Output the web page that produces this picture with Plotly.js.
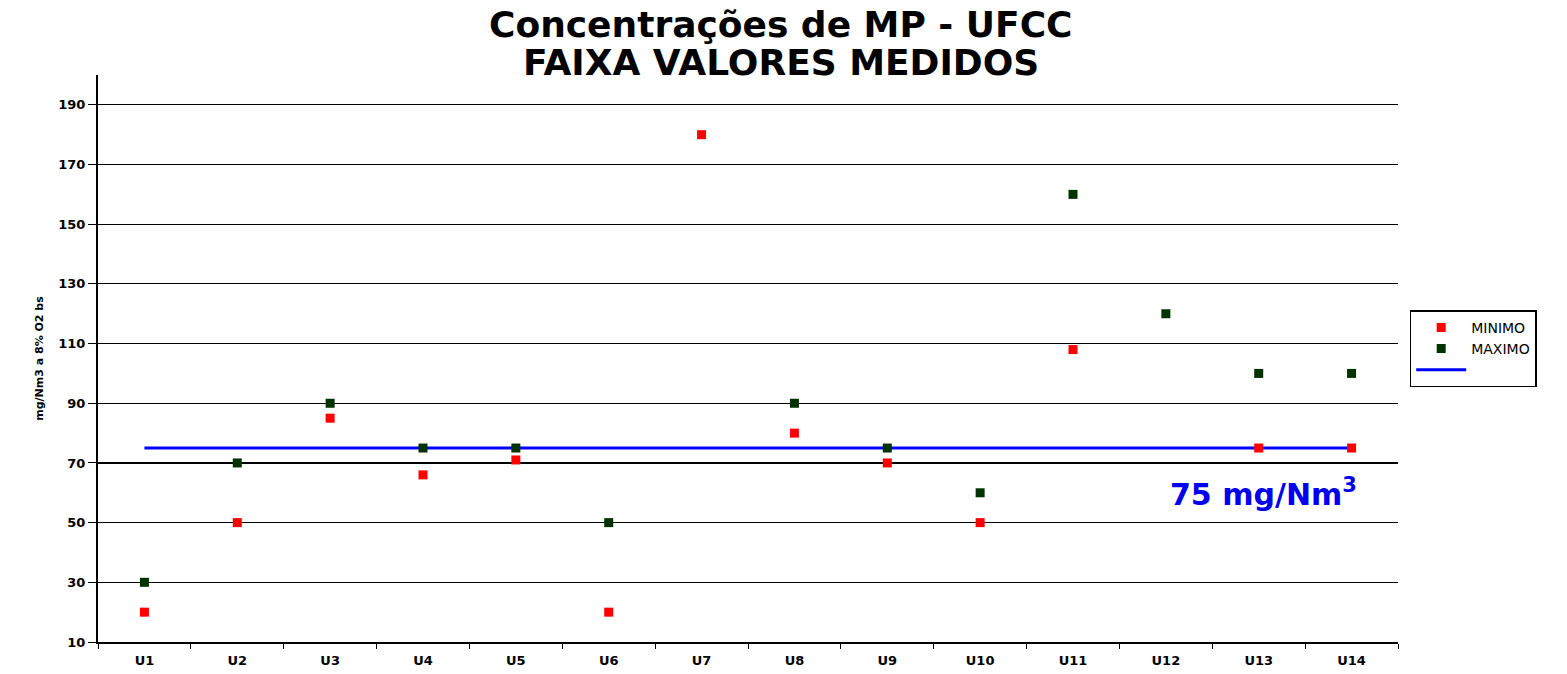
<!DOCTYPE html>
<html>
<head>
<meta charset="utf-8">
<script src="https://cdn.plot.ly/plotly-3.0.1.min.js"></script>
<style>html,body{margin:0;padding:0;background:#fff;}#chart{width:1567px;height:674px;}</style>
</head>
<body>
<div id="chart"></div>
<script>
const categories = ["U1","U2","U3","U4","U5","U6","U7","U8","U9","U10","U11","U12","U13","U14"];
const minimo = [20, 50, 85, 66, 71, 20, 180, 80, 70, 50, 108, null, 75, 75];
const maximo = [30, 70, 90, 75, 75, 50, null, 90, 75, 60, 160, 120, 100, 100];
const limite = [75, 75, 75, 75, 75, 75, 75, 75, 75, 75, 75, 75, 75, 75];
const yTicks = [10, 30, 50, 70, 90, 110, 130, 150, 170, 190];

const fontFam = "DejaVu Sans, Liberation Sans, Arial, sans-serif";

const traces = [
  {x: categories, y: limite, type: "scatter", mode: "lines", name: " ",
   line: {color: "#0000ff", width: 3}, showlegend: true, legendrank: 3},
  {x: categories, y: minimo, type: "scatter", mode: "markers", name: "MINIMO",
   marker: {symbol: "square", color: "#ff0000", size: 9}, legendrank: 1},
  {x: categories, y: maximo, type: "scatter", mode: "markers", name: "MAXIMO",
   marker: {symbol: "square", color: "#003300", size: 9}, legendrank: 2}
];

const layout = {
  width: 1567, height: 674,
  margin: {l: 98, r: 169, t: 75, b: 32},
  paper_bgcolor: "#ffffff", plot_bgcolor: "#ffffff",
  font: {family: fontFam, color: "#000000"},
  xaxis: {type: "category", categoryorder: "array", categoryarray: categories,
          tickson: "boundaries", ticks: "outside", ticklen: 5, tickcolor: "#000",
          showline: true, linecolor: "#000", linewidth: 2, mirror: false,
          showgrid: false, zeroline: false, range: [-0.5, 13.5], ticklabelstandoff: 5,
          tickfont: {family: fontFam, size: 13, weight: "bold"}},
  yaxis: {range: [10, 200], tickvals: yTicks, ticks: "outside", ticklen: 8, tickcolor: "#000",
          showline: true, linecolor: "#000", linewidth: 2,
          showgrid: true, gridcolor: "#000", gridwidth: 1.2, zeroline: false,
          tickfont: {family: fontFam, size: 13, weight: "bold"},
          title: {text: "mg/Nm3 a 8% O2 bs", font: {family: fontFam, size: 11, weight: "bold"}, standoff: 12}},
  legend: {x: 1.009, xanchor: "left", y: 0.585, yanchor: "top",
           bordercolor: "#000", borderwidth: 1.5, bgcolor: "#fff",
           font: {family: fontFam, size: 14, color: "#000"},
           tracegroupgap: 0, itemwidth: 50},
  annotations: [
    {xref: "paper", yref: "paper", x: 0.525, y: 1.0, yanchor: "bottom", yshift: 28,
     text: "Concentrações de MP - UFCC", showarrow: false,
     font: {family: fontFam, size: 36, weight: "bold", color: "#000"}},
    {xref: "paper", yref: "paper", x: 0.525, y: 1.0, yanchor: "bottom", yshift: -10,
     text: "FAIXA VALORES MEDIDOS", showarrow: false,
     font: {family: fontFam, size: 36, weight: "bold", color: "#000"}},
    {xref: "x", yref: "y", x: 12.05, y: 60, text: "75 mg/Nm<sup>3</sup>",
     showarrow: false, font: {family: fontFam, size: 30, weight: "bold", color: "#0000ee"}}
  ],
  showlegend: true
};

Plotly.newPlot("chart", traces, layout, {displayModeBar: false, staticPlot: true});
</script>
</body>
</html>
